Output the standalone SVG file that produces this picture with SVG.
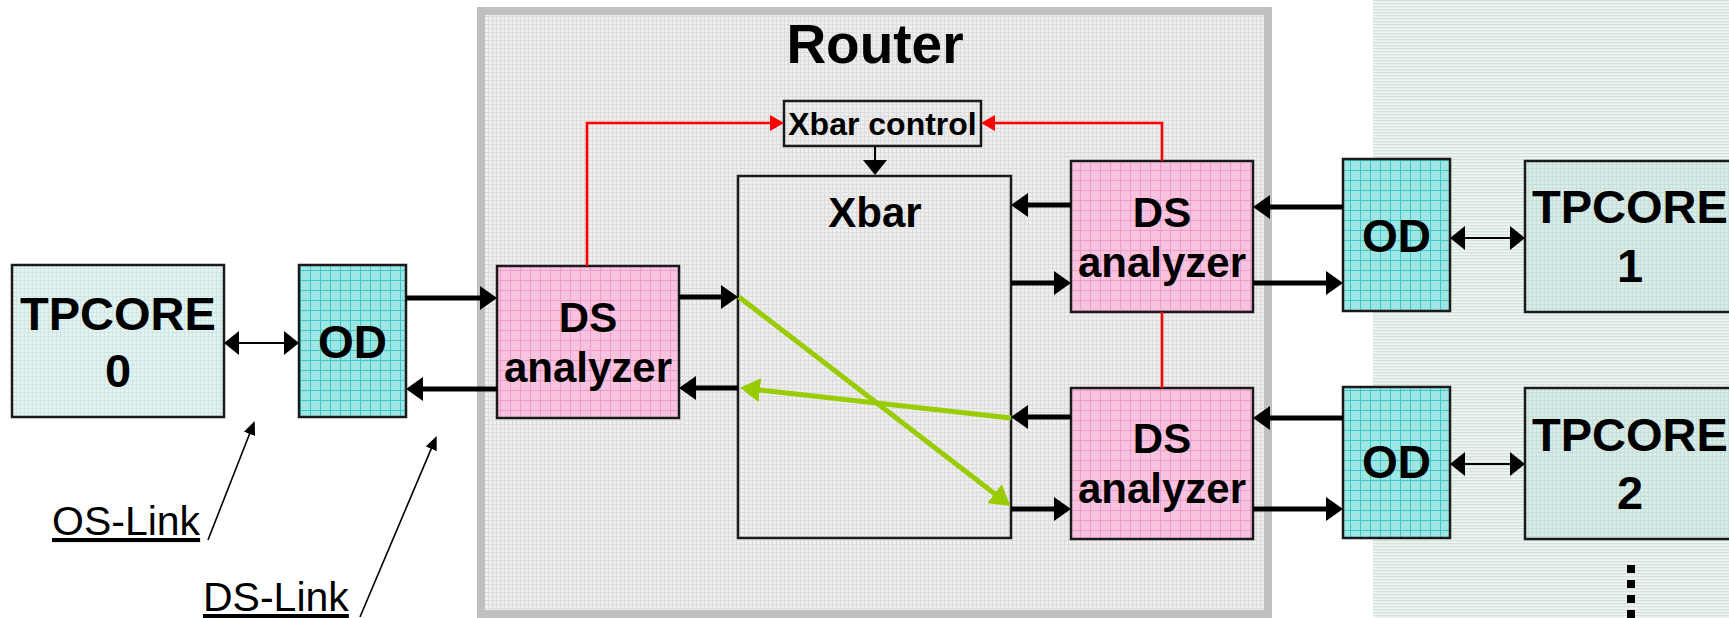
<svg xmlns="http://www.w3.org/2000/svg" width="1729" height="618" viewBox="0 0 1729 618">
  <defs>
    <pattern id="pRouter" width="4" height="4" patternUnits="userSpaceOnUse">
      <rect width="4" height="4" fill="#eeeeee"/>
      <path d="M0,0.5H4M0.5,0V4" stroke="#dcdcdc" stroke-width="1"/>
    </pattern>
    <pattern id="pStripe" width="3" height="3" patternUnits="userSpaceOnUse">
      <rect width="3" height="3" fill="#f1f6f3"/>
      <rect width="3" height="1.4" fill="#d3e2da"/>
    </pattern>
    <pattern id="pCore" width="4" height="4" patternUnits="userSpaceOnUse">
      <rect width="4" height="4" fill="#e2f3f2"/>
      <path d="M0,0.5H4M0.5,0V4" stroke="#cfe6e4" stroke-width="1"/>
    </pattern>
    <pattern id="pCore2" width="4" height="4" patternUnits="userSpaceOnUse">
      <rect width="4" height="4" fill="#d9ece8"/>
      <path d="M0,0.5H4M0.5,0V4" stroke="#c6dfda" stroke-width="1"/>
    </pattern>
    <pattern id="pOD" width="10" height="10" patternUnits="userSpaceOnUse">
      <rect width="10" height="10" fill="#9fe5e4"/>
      <path d="M0,0.5H10M0.5,0V10" stroke="#3cc9c8" stroke-width="1"/>
    </pattern>
    <pattern id="pDS" width="10" height="10" patternUnits="userSpaceOnUse">
      <rect width="10" height="10" fill="#f8c3df"/>
      <path d="M0,0.5H10M0.5,0V10" stroke="#f19bc8" stroke-width="1"/>
    </pattern>
    <marker id="ahBlack" markerUnits="userSpaceOnUse" markerWidth="17" markerHeight="24" viewBox="0 0 17 24" refX="1" refY="12" orient="auto">
      <path d="M0,0L17,12L0,24Z" fill="#000"/>
    </marker>
    <marker id="ahThin" markerUnits="userSpaceOnUse" markerWidth="15" markerHeight="24" viewBox="0 0 15 24" refX="1" refY="12" orient="auto-start-reverse">
      <path d="M0,0L15,12L0,24Z" fill="#000"/>
    </marker>
    <marker id="ahRed" markerUnits="userSpaceOnUse" markerWidth="14" markerHeight="16" viewBox="0 0 14 16" refX="1" refY="8" orient="auto">
      <path d="M0,0L14,8L0,16Z" fill="#ff0000"/>
    </marker>
    <marker id="ahGreen" markerUnits="userSpaceOnUse" markerWidth="20" markerHeight="24" viewBox="0 0 20 24" refX="1" refY="12" orient="auto">
      <path d="M0,0L20,12L0,24Z" fill="#99cc00"/>
    </marker>
    <marker id="ahPtr" markerUnits="userSpaceOnUse" markerWidth="14" markerHeight="12" viewBox="0 0 14 12" refX="1" refY="6" orient="auto">
      <path d="M0,0L14,6L0,12Z" fill="#000"/>
    </marker>
  </defs>
  <style>
    text { font-family: "Liberation Sans", Arial, sans-serif; fill: #000; }
    .b { font-weight: bold; text-anchor: middle; }
    .box { stroke: #1a1a1a; stroke-width: 2.5; }
    .thick { stroke: #000; stroke-width: 5; fill: none; marker-end: url(#ahBlack); }
    .thin { stroke: #000; stroke-width: 2; fill: none; marker-start: url(#ahThin); marker-end: url(#ahThin); }
    .red { stroke: #ff0000; stroke-width: 2.6; fill: none; }
    .green { stroke: #99cc00; stroke-width: 5; fill: none; marker-end: url(#ahGreen); }
    .ptr { stroke: #000; stroke-width: 1.6; fill: none; marker-end: url(#ahPtr); }
    .lbl { font-size: 41px; text-decoration: underline; }
  </style>

  <!-- processor side background -->
  <rect x="1373" y="0" width="356" height="618" fill="url(#pStripe)"/>

  <!-- router enclosure -->
  <g id="router">
    <rect x="481" y="11" width="787" height="603" fill="url(#pRouter)" stroke="#c0c0c0" stroke-width="8"/>
    <text class="b" x="875" y="63" font-size="55">Router</text>
  </g>

  <g id="tpcore0">
    <rect class="box" x="12" y="265" width="212" height="152" fill="url(#pCore)"/>
    <text class="b" x="118" y="330" font-size="47">TPCORE</text>
    <text class="b" x="118" y="387" font-size="47">0</text>
  </g>
  <g id="od0">
    <rect class="box" x="299" y="265" width="107" height="152" fill="url(#pOD)"/>
    <text class="b" x="352.5" y="358" font-size="46">OD</text>
  </g>
  <g id="ds0">
    <rect class="box" x="497" y="266" width="182" height="152" fill="url(#pDS)"/>
    <text class="b" x="588" y="332" font-size="42">DS</text>
    <text class="b" x="588" y="382" font-size="42">analyzer</text>
  </g>
  <g id="xbar-control">
    <rect class="box" x="784" y="101" width="197" height="45" fill="none"/>
    <text class="b" x="882.5" y="135" font-size="32">Xbar control</text>
  </g>
  <g id="xbar">
    <rect class="box" x="738" y="176" width="273" height="362" fill="none"/>
    <text class="b" x="875" y="227" font-size="42">Xbar</text>
  </g>
  <g id="ds1">
    <rect class="box" x="1071" y="161" width="182" height="151" fill="url(#pDS)"/>
    <text class="b" x="1162" y="227" font-size="42">DS</text>
    <text class="b" x="1162" y="277" font-size="42">analyzer</text>
  </g>
  <g id="ds2">
    <rect class="box" x="1071" y="388" width="182" height="151" fill="url(#pDS)"/>
    <text class="b" x="1162" y="453" font-size="42">DS</text>
    <text class="b" x="1162" y="503" font-size="42">analyzer</text>
  </g>
  <g id="od1">
    <rect class="box" x="1343" y="159" width="107" height="152" fill="url(#pOD)"/>
    <text class="b" x="1396.5" y="252" font-size="46">OD</text>
  </g>
  <g id="od2">
    <rect class="box" x="1343" y="387" width="107" height="151" fill="url(#pOD)"/>
    <text class="b" x="1396.5" y="478" font-size="46">OD</text>
  </g>
  <g id="tpcore1">
    <rect class="box" x="1525" y="161" width="212" height="151" fill="url(#pCore2)"/>
    <text class="b" x="1630" y="223" font-size="47">TPCORE</text>
    <text class="b" x="1630" y="282" font-size="47">1</text>
  </g>
  <g id="tpcore2">
    <rect class="box" x="1525" y="388" width="212" height="151" fill="url(#pCore2)"/>
    <text class="b" x="1630" y="451" font-size="47">TPCORE</text>
    <text class="b" x="1630" y="509" font-size="47">2</text>
  </g>
  <g id="more">
    <line x1="1631" y1="565" x2="1631" y2="618" stroke="#000" stroke-width="8" stroke-dasharray="8 7"/>
  </g>

  <g id="labels">
    <text class="lbl" x="52" y="535">OS-Link</text>
    <text class="lbl" x="203" y="611">DS-Link</text>
  </g>

  <g id="connectors">
    <!-- DS links -->
    <line class="thick" x1="406" y1="298" x2="481" y2="298"/>
    <line class="thick" x1="497" y1="389" x2="422" y2="389"/>
    <line class="thick" x1="679" y1="297" x2="722" y2="297"/>
    <line class="thick" x1="738" y1="388" x2="695" y2="388"/>
    <line class="thick" x1="1071" y1="205" x2="1027" y2="205"/>
    <line class="thick" x1="1011" y1="283" x2="1055" y2="283"/>
    <line class="thick" x1="1343" y1="207" x2="1269" y2="207"/>
    <line class="thick" x1="1253" y1="283" x2="1327" y2="283"/>
    <line class="thick" x1="1071" y1="417" x2="1027" y2="417"/>
    <line class="thick" x1="1011" y1="509" x2="1055" y2="509"/>
    <line class="thick" x1="1343" y1="418" x2="1269" y2="418"/>
    <line class="thick" x1="1253" y1="509" x2="1327" y2="509"/>
    <!-- OS links -->
    <line class="thin" x1="238" y1="343" x2="285" y2="343"/>
    <line class="thin" x1="1464" y1="238" x2="1511" y2="238"/>
    <line class="thin" x1="1464" y1="464" x2="1511" y2="464"/>
    <!-- control -->
    <line x1="875" y1="146" x2="875" y2="161" stroke="#000" stroke-width="2" marker-end="url(#ahThin)"/>
    <polyline class="red" points="587,266 587,123 771,123" marker-end="url(#ahRed)"/>
    <polyline class="red" points="1162,161 1162,123 994,123" marker-end="url(#ahRed)"/>
    <line class="red" x1="1162" y1="312" x2="1162" y2="388"/>
    <!-- switched paths -->
    <line class="green" x1="739" y1="297" x2="995.3" y2="494.3"/>
    <line class="green" x1="1011" y1="418" x2="758.9" y2="389.9"/>
    <!-- label pointers -->
    <line class="ptr" x1="208" y1="540" x2="249.9" y2="433"/>
    <line class="ptr" x1="360" y1="617" x2="431.6" y2="447.9"/>
  </g>
</svg>
